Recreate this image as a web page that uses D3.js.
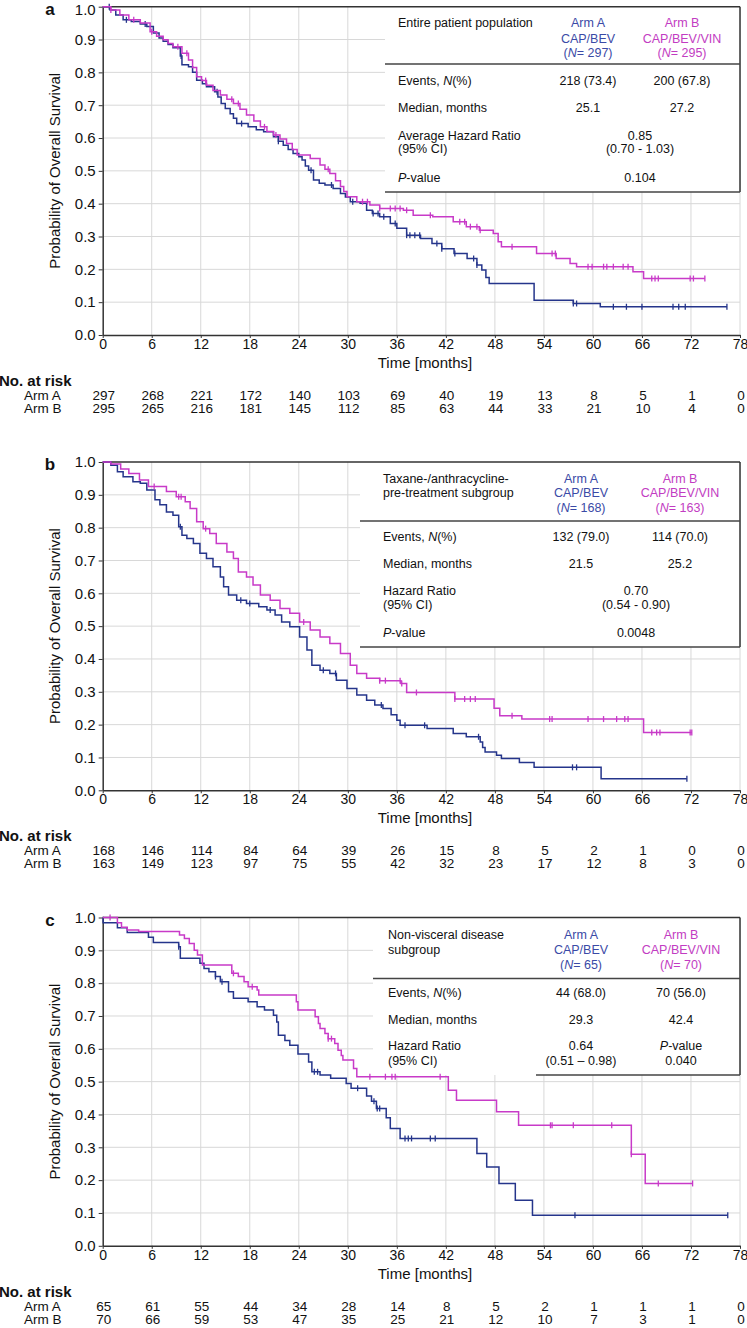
<!DOCTYPE html>
<html><head><meta charset="utf-8">
<script src="https://cdn.jsdelivr.net/npm/d3@7"></script>
<style>body{margin:0;background:#fff}svg{display:block}</style>
</head><body>
<script>
// ---------- axes / ticks ----------
const months = [0,6,12,18,24,30,36,42,48,54,60,66,72,78];
const yTicks = [0,0.1,0.2,0.3,0.4,0.5,0.6,0.7,0.8,0.9,1.0];
const panelLabels = ["a","b","c"];

// ---------- panel a : entire population ----------
const aA_t = [0,0.9,1.6,2.5,3.5,4.6,5.4,6.2,6.9,7.4,8.0,8.6,9.5,9.7,10.5,11.0,11.5,12.2,12.7,13.7,14.1,14.5,15.0,15.6,16.0,16.4,17.8,18.8,19.7,20.9,21.5,22.1,22.7,23.3,24.0,24.4,24.8,25.2,25.8,26.5,27.2,28.2,29.1,29.7,30.3,31.5,32.3,33.0,33.9,35.2,36.0,37.2,38.9,40.3,41.5,43.0,44.6,45.8,46.4,46.9,47.3,52.8,57.6,60.9];
const aA_s = [1.0,0.99,0.975,0.96,0.955,0.947,0.94,0.92,0.905,0.895,0.885,0.875,0.85,0.823,0.817,0.80,0.776,0.765,0.756,0.741,0.725,0.705,0.69,0.674,0.66,0.644,0.634,0.625,0.619,0.604,0.59,0.578,0.565,0.553,0.543,0.533,0.515,0.502,0.472,0.462,0.457,0.446,0.431,0.42,0.406,0.401,0.38,0.37,0.36,0.34,0.325,0.304,0.294,0.279,0.263,0.248,0.233,0.213,0.198,0.175,0.157,0.106,0.096,0.086];
const aA_end = 76.4;
const aA_cens = [0.8,2.9,5.2,9.6,14.0,17.0,21.5,25.5,28.0,30.6,33.1,33.7,34.4,35.8,37.2,37.6,38.2,38.8,40.9,41.5,43.1,45.4,45.8,57.6,58.0,62.5,64.1,66.0,69.8,70.5,71.3,76.4];
const aB_t = [0,1.0,2.1,3.2,4.6,5.8,6.6,7.4,8.0,8.6,9.7,10.5,11.0,11.5,12.1,12.7,13.5,14.4,15.2,16.0,16.8,17.6,18.5,19.3,20.1,20.9,21.7,22.5,23.2,23.8,25.4,26.6,27.2,27.8,28.5,29.1,29.5,29.9,31.1,32.7,33.9,36.8,38.0,40.4,42.9,44.5,46.1,47.8,48.4,48.8,53.1,55.5,57.2,58.0,64.9,66.2];
const aB_s = [1.0,0.99,0.975,0.96,0.95,0.924,0.91,0.899,0.888,0.878,0.858,0.838,0.815,0.787,0.775,0.761,0.745,0.731,0.718,0.705,0.688,0.67,0.652,0.634,0.62,0.609,0.597,0.583,0.565,0.548,0.538,0.518,0.505,0.492,0.47,0.452,0.437,0.421,0.406,0.396,0.385,0.38,0.365,0.36,0.345,0.33,0.319,0.309,0.284,0.269,0.248,0.233,0.218,0.208,0.193,0.172];
const aB_end = 73.7;
const aB_cens = [1.0,3.8,6.0,9.2,10.3,12.6,15.8,16.6,19.8,21.2,27.6,31.8,32.4,33.9,35.2,35.8,36.4,37.2,40.1,43.7,44.3,45.0,45.8,46.2,50.1,55.0,55.4,59.4,59.9,61.3,61.7,62.5,63.7,64.3,67.2,67.6,68.0,71.9,72.3,73.7];
const riskA_a = [297,268,221,172,140,103,69,40,19,13,8,5,1,0];
const riskB_a = [295,265,216,181,145,112,85,63,44,33,21,10,4,0];

// ---------- panel b : taxane/anthracycline pre-treated ----------
const bA_t = [0,1.0,1.8,2.5,3.7,4.6,5.4,6.4,7.0,7.8,8.6,9.3,9.7,10.3,11.1,11.9,12.7,13.5,14.4,14.8,15.4,16.4,17.6,19.1,20.1,21.1,21.9,22.9,24.1,25.0,25.6,26.6,27.8,28.6,29.9,31.1,32.3,33.3,34.3,35.3,36.0,36.4,39.7,42.9,44.5,46.2,46.5,46.8,48.2,48.8,51.0,52.8,61.0];
const bA_s = [1.0,0.99,0.97,0.955,0.94,0.935,0.915,0.885,0.87,0.848,0.838,0.803,0.777,0.767,0.752,0.722,0.706,0.681,0.65,0.62,0.595,0.579,0.569,0.559,0.549,0.534,0.513,0.498,0.467,0.427,0.381,0.366,0.356,0.335,0.31,0.29,0.274,0.26,0.249,0.23,0.213,0.198,0.188,0.173,0.163,0.147,0.13,0.117,0.107,0.097,0.085,0.07,0.035];
const bA_end = 71.5;
const bA_cens = [9.5,16.9,18.0,20.5,27.0,28.5,34.1,37.0,39.4,46.0,57.5,58.0,71.5];
const bB_t = [0,1.0,2.2,3.2,4.5,5.6,7.8,9.0,10.1,10.7,11.5,12.3,13.1,13.9,15.2,16.0,16.6,17.6,18.4,19.3,20.5,21.7,22.9,24.1,25.4,26.6,27.8,29.1,30.3,31.1,32.3,33.9,36.5,37.2,43.1,47.9,48.6,51.3,66.2];
const bB_s = [1.0,0.994,0.979,0.965,0.945,0.925,0.91,0.894,0.879,0.858,0.818,0.797,0.782,0.752,0.726,0.706,0.665,0.65,0.625,0.595,0.579,0.554,0.539,0.513,0.488,0.467,0.447,0.417,0.381,0.356,0.341,0.334,0.325,0.298,0.278,0.25,0.227,0.217,0.176];
const bB_end = 72.1;
const bB_cens = [6.3,9.3,9.6,12.6,24.6,33.9,34.6,36.4,36.6,38.4,43.1,44.3,45.0,45.6,50.1,54.7,55.0,59.4,61.3,62.9,63.9,64.3,67.2,67.8,68.2,71.9,72.1];
const riskA_b = [168,146,114,84,64,39,26,15,8,5,2,1,0,0];
const riskB_b = [163,149,123,97,75,55,42,32,23,17,12,8,3,0];

// ---------- panel c : non-visceral disease ----------
const cA_t = [0,0.05,1.8,3.0,5.6,6.2,9.3,9.5,11.9,12.4,13.0,13.8,14.4,15.4,16.0,17.8,18.9,19.8,20.9,21.3,21.5,22.3,22.9,23.9,25.2,25.6,26.6,27.9,29.8,30.4,32.3,32.9,33.5,34.7,35.2,36.4,45.8,47.0,48.5,50.5,52.6];
const cA_s = [1.0,0.984,0.969,0.954,0.94,0.924,0.911,0.876,0.861,0.845,0.835,0.82,0.804,0.774,0.754,0.743,0.728,0.718,0.702,0.682,0.641,0.625,0.611,0.584,0.56,0.53,0.52,0.51,0.494,0.48,0.456,0.44,0.418,0.39,0.357,0.327,0.281,0.24,0.19,0.139,0.093];
const cA_end = 76.5;
const cA_cens = [9.3,13.8,14.6,25.9,26.3,31.2,33.2,33.6,33.9,37.0,37.4,37.8,40.1,40.7,57.8,76.5];
const cB_t = [0,1.8,2.3,3.0,4.4,9.4,10.0,10.6,11.2,11.6,12.2,15.8,16.6,17.3,17.8,18.9,19.1,23.7,23.9,26.0,26.4,26.6,27.2,27.6,28.4,28.8,29.2,29.4,30.7,31.1,42.3,43.3,48.2,50.9,64.7,66.4];
const cB_s = [1.0,0.984,0.97,0.962,0.957,0.947,0.936,0.921,0.9,0.886,0.855,0.83,0.82,0.804,0.789,0.779,0.764,0.743,0.718,0.698,0.677,0.662,0.647,0.631,0.616,0.596,0.58,0.566,0.54,0.515,0.474,0.443,0.408,0.367,0.279,0.19];
const cB_end = 72.2;
const cB_cens = [0.9,16.0,18.3,27.6,28.0,32.7,34.6,35.4,35.8,41.3,54.8,55.0,57.6,62.3,64.7,68.0,72.2];
const riskA_c = [65,61,55,44,34,28,14,8,5,2,1,1,1,0];
const riskB_c = [70,66,59,53,47,35,25,21,12,10,7,3,1,0];

// ---------- summary tables ----------
const tabTitles = [["Entire patient population"],["Taxane-/anthracycline-","pre-treatment subgroup"],["Non-visceral disease","subgroup"]];
const armAHead = ["Arm A","CAP/BEV"];
const armBHead = ["Arm B","CAP/BEV/VIN"];
const nArmA = [297,168,65];
const nArmB = [295,163,70];
const rowLabels = ["Events, *N*(%)","Median, months"];
const eventsAB = [["218 (73.4)","200 (67.8)"],["132 (79.0)","114 (70.0)"],["44 (68.0)","70 (56.0)"]];
const mediansAB = [["25.1","27.2"],["21.5","25.2"],["29.3","42.4"]];
const hrLabels = ["Average Hazard Ratio","Hazard Ratio","Hazard Ratio"];
const hrValues = ["0.85","0.70","0.64"];
const hrCIs = ["(0.70 - 1.03)","(0.54 - 0.90)","(0.51 \u2013 0.98)"];
const pValues = ["0.104","0.0048","0.040"];

// ---------- drawing ----------
const W = 747, H = 1328;
const COL_A = "#25358b", COL_B = "#c83ac8";
const HEAD_A = "#3a4aa6", HEAD_B = "#c23cc2";
const FONT = "'Liberation Sans', Arial, Helvetica, sans-serif";
const svg = d3.select("body").append("svg").attr("width", W).attr("height", H)
  .style("font-family", FONT);

const panels = [
  {top: 6.7, A:{t:aA_t,s:aA_s,end:aA_end,c:aA_cens}, B:{t:aB_t,s:aB_s,end:aB_end,c:aB_cens}, rA:riskA_a, rB:riskB_a,
   L:{rectL:385, hdrL:385, botL:385, bot:185.3, hdr:57.3, labX:398, titleY:[20.5], armY:[20,36,50], colA:588, colB:682, colM:640, ev:78, med:105, hr:[133,146], p:175, pInline:false}},
  {top: 462, A:{t:bA_t,s:bA_s,end:bA_end,c:bA_cens}, B:{t:bB_t,s:bB_s,end:bB_end,c:bB_cens}, rA:riskA_b, rB:riskB_b,
   L:{rectL:360, hdrL:360, botL:360, bot:185, hdr:59, labX:383, titleY:[21,35], armY:[21,35,50], colA:581, colB:680, colM:636, ev:79, med:106, hr:[133,147], p:175, pInline:false}},
  {top: 917.5, A:{t:cA_t,s:cA_s,end:cA_end,c:cA_cens}, B:{t:cB_t,s:cB_s,end:cB_end,c:cB_cens}, rA:riskA_c, rB:riskB_c,
   L:{rectL:373, hdrL:373, botL:536, bot:157.5, hdr:61, labX:388, titleY:[21,36], armY:[21,36,51], colA:581, colB:681, ev:79, med:106, hr:[132,147], pInline:true}}
];

function rich(t, str) {
  str.split("*").forEach((p, i) => { if (p) t.append("tspan").text(p).style("font-style", i % 2 ? "italic" : "normal"); });
}
function txt(g, x, y, str, opts = {}) {
  const t = g.append("text").attr("x", x).attr("y", y)
    .attr("text-anchor", opts.anchor || "start")
    .attr("fill", opts.color || "#111")
    .attr("font-size", opts.size || 12.5)
    .attr("font-weight", opts.weight || "normal");
  rich(t, str);
  return t;
}

panels.forEach((p, pi) => {
  const T = p.top, Bt = T + 328.3;
  const x = d3.scaleLinear().domain([0, 78]).range([102.7, 740]);
  const y = d3.scaleLinear().domain([0, 1]).range([Bt, T]);
  const g = svg.append("g");

  // grid
  g.selectAll(".vg").data(months.slice(1)).join("line")
    .attr("x1", d => x(d)).attr("x2", d => x(d)).attr("y1", T).attr("y2", Bt)
    .attr("stroke", "#d8d8d8").attr("stroke-width", 1);
  g.selectAll(".hg").data(yTicks.filter(v => v > 0 && v < 1)).join("line")
    .attr("x1", x(0)).attr("x2", x(78)).attr("y1", d => y(d)).attr("y2", d => y(d))
    .attr("stroke", "#d8d8d8").attr("stroke-width", 1);

  // table background
  const L = p.L;
  g.append("rect").attr("x", L.rectL).attr("y", T).attr("width", x(78) - L.rectL).attr("height", L.bot).attr("fill", "#fff");

  // axes
  const ya = d3.axisLeft(y).tickValues(yTicks).tickFormat(d3.format(".1f")).tickSizeInner(4).tickSizeOuter(0).tickPadding(3);
  const yg = g.append("g").attr("transform", `translate(${x(0)},0)`).call(ya);
  yg.select(".domain").attr("stroke", "#333").attr("stroke-width", 1.5);
  yg.selectAll(".tick line").attr("stroke", "#333");
  yg.selectAll("text").attr("font-size", 15).attr("fill", "#111").style("font-family", FONT);
  if (pi === 0) yg.selectAll(".tick text").filter(d => d === 1).attr("dy", "0.5em");

  const xa = d3.axisBottom(x).tickValues(months).tickFormat(d3.format("d")).tickSizeInner(3).tickSizeOuter(0).tickPadding(1);
  const xg = g.append("g").attr("transform", `translate(0,${Bt})`).call(xa);
  xg.select(".domain").attr("stroke", "#333").attr("stroke-width", 1.5);
  xg.selectAll(".tick line").attr("stroke", "#333");
  xg.selectAll("text").attr("font-size", 14).attr("fill", "#111").style("font-family", FONT);

  // frame: top border and table borders
  g.append("line").attr("x1", x(0)).attr("x2", x(78)).attr("y1", T).attr("y2", T).attr("stroke", "#333").attr("stroke-width", 1.5);
  g.append("line").attr("x1", x(78)).attr("x2", x(78)).attr("y1", T).attr("y2", T + L.bot).attr("stroke", "#333").attr("stroke-width", 1.5);
  g.append("line").attr("x1", L.hdrL).attr("x2", x(78)).attr("y1", T + L.hdr).attr("y2", T + L.hdr).attr("stroke", "#444").attr("stroke-width", 1.5);
  g.append("line").attr("x1", L.botL).attr("x2", x(78)).attr("y1", T + L.bot).attr("y2", T + L.bot).attr("stroke", "#444").attr("stroke-width", 1.5);

  // table text
  tabTitles[pi].forEach((s, i) => txt(g, L.labX, T + L.titleY[i], s));
  [armAHead[0], armAHead[1], `(*N*= ${nArmA[pi]})`].forEach((s, i) => txt(g, L.colA, T + L.armY[i], s, {anchor: "middle", color: HEAD_A}));
  [armBHead[0], armBHead[1], `(*N*= ${nArmB[pi]})`].forEach((s, i) => txt(g, L.colB, T + L.armY[i], s, {anchor: "middle", color: HEAD_B}));
  txt(g, L.labX, T + L.ev, rowLabels[0]);
  txt(g, L.colA, T + L.ev, eventsAB[pi][0], {anchor: "middle"});
  txt(g, L.colB, T + L.ev, eventsAB[pi][1], {anchor: "middle"});
  txt(g, L.labX, T + L.med, rowLabels[1]);
  txt(g, L.colA, T + L.med, mediansAB[pi][0], {anchor: "middle"});
  txt(g, L.colB, T + L.med, mediansAB[pi][1], {anchor: "middle"});
  txt(g, L.labX, T + L.hr[0], hrLabels[pi]);
  txt(g, L.labX, T + L.hr[1], "(95% CI)");
  if (!L.pInline) {
    txt(g, L.colM, T + L.hr[0], hrValues[pi], {anchor: "middle"});
    txt(g, L.colM, T + L.hr[1], hrCIs[pi], {anchor: "middle"});
    txt(g, L.labX, T + L.p, "*P*-value");
    txt(g, L.colM, T + L.p, pValues[pi], {anchor: "middle"});
  } else {
    txt(g, L.colA, T + L.hr[0], hrValues[pi], {anchor: "middle"});
    txt(g, L.colA, T + L.hr[1], hrCIs[pi], {anchor: "middle"});
    txt(g, L.colB, T + L.hr[0], "*P*-value", {anchor: "middle"});
    txt(g, L.colB, T + L.hr[1], pValues[pi], {anchor: "middle"});
  }

  // curves
  const line = d3.line().x(d => x(d[0])).y(d => y(d[1])).curve(d3.curveStepAfter);
  [[p.A, COL_A], [p.B, COL_B]].forEach(([arm, col]) => {
    const pts = arm.t.map((t, i) => [t, arm.s[i]]);
    pts.push([arm.end, arm.s[arm.s.length - 1]]);
    g.append("path").attr("d", line(pts)).attr("fill", "none").attr("stroke", col).attr("stroke-width", 1.5);
    g.selectAll(null).data(arm.c).join("line")
      .attr("x1", d => x(d)).attr("x2", d => x(d))
      .attr("y1", d => y(arm.s[d3.bisectRight(arm.t, d) - 1]) - 3)
      .attr("y2", d => y(arm.s[d3.bisectRight(arm.t, d) - 1]) + 3)
      .attr("stroke", col).attr("stroke-width", 1.3);
  });

  // labels
  txt(g, 50, T + 8, panelLabels[pi], {anchor: "middle", size: 17, weight: "bold"});
  g.append("text").attr("transform", `translate(60,${(T + Bt) / 2}) rotate(-90)`)
    .attr("text-anchor", "middle").attr("font-size", 15).attr("fill", "#111").text("Probability of Overall Survival");
  txt(g, 425, T + 361, "Time  [months]", {anchor: "middle", size: 15});

  // number at risk
  txt(g, -1, T + 379, "No. at risk", {size: 15, weight: "bold"});
  txt(g, 24, T + 393, "Arm A", {size: 13.5});
  txt(g, 24, T + 406, "Arm B", {size: 13.5});
  g.selectAll(null).data(months).join("text")
    .attr("x", (d) => x(d) + 1).attr("y", T + 393).attr("text-anchor", "middle")
    .attr("font-size", 13.5).attr("fill", "#111").text((d, i) => p.rA[i]);
  g.selectAll(null).data(months).join("text")
    .attr("x", (d) => x(d) + 1).attr("y", T + 406).attr("text-anchor", "middle")
    .attr("font-size", 13.5).attr("fill", "#111").text((d, i) => p.rB[i]);
});
</script>
</body></html>
